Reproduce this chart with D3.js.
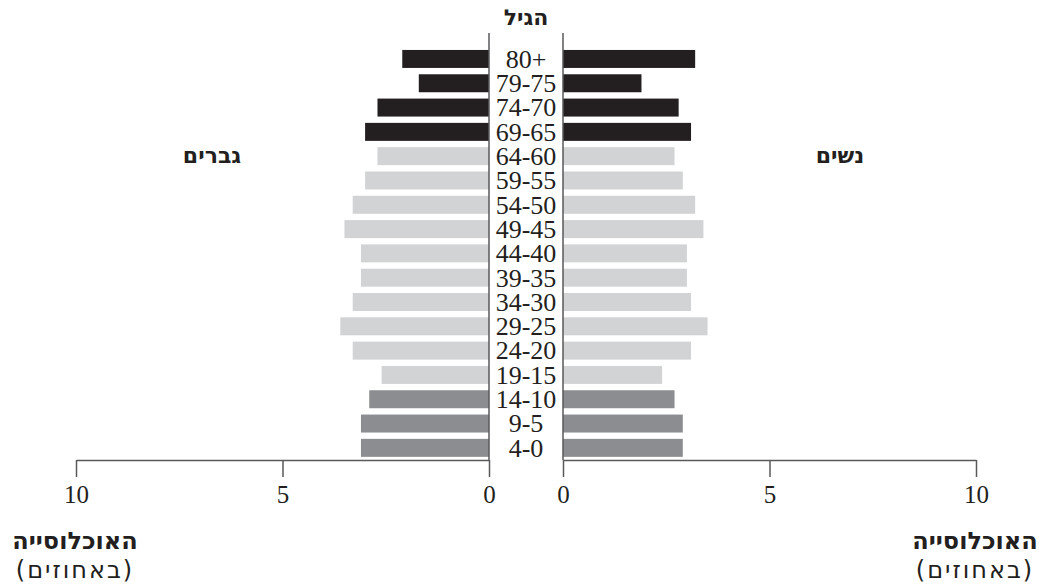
<!DOCTYPE html>
<html>
<head>
<meta charset="utf-8">
<script src="https://cdn.jsdelivr.net/npm/d3@7"></script>
<style>
  body { margin: 0; background: #fff; }
  svg { display: block; }
</style>
</head>
<body>
<div class="chart"></div>
<script>
// age groups, top to bottom
const ages = ['80+', '79-75', '74-70', '69-65', '64-60', '59-55', '54-50', '49-45', '44-40',
              '39-35', '34-30', '29-25', '24-20', '19-15', '14-10', '9-5', '4-0'];
const groups = ['old', 'old', 'old', 'old', 'adult', 'adult', 'adult', 'adult', 'adult',
                'adult', 'adult', 'adult', 'adult', 'adult', 'young', 'young', 'young'];
// percent of population
const men   = [2.1, 1.7, 2.7, 3.0, 2.7, 3.0, 3.3, 3.5, 3.1, 3.1, 3.3, 3.6, 3.3, 2.6, 2.9, 3.1, 3.1];
const women = [3.2, 1.9, 2.8, 3.1, 2.7, 2.9, 3.2, 3.4, 3.0, 3.0, 3.1, 3.5, 3.1, 2.4, 2.7, 2.9, 2.9];
const ticks = [0, 5, 10];

const width = 1041;
const height = 587;
const serif = '"Liberation Serif", "DejaVu Serif", serif';
const sans = '"DejaVu Sans", "Liberation Sans", sans-serif';

const svg = d3.select('.chart')
  .append('svg')
  .attr('width', width)
  .attr('height', height);

const colour = d3.scaleOrdinal()
  .domain(['old', 'adult', 'young'])
  .range(['#231f20', '#d1d3d4', '#8c8d90']);

const yScale = d3.scaleBand()
  .domain(ages)
  .range([46.8, 460])
  .paddingInner(0.26)
  .paddingOuter(0.13);

const leftX = d3.scaleLinear().domain([0, 10]).range([489, 76]);
const rightX = d3.scaleLinear().domain([0, 10]).range([563, 976]);

const rows = ages.map((a, i) => ({age: a, group: groups[i], m: men[i], w: women[i]}));

// men bars
svg.selectAll('rect.men')
  .data(rows)
  .enter()
  .append('rect')
    .attr('class', 'men')
    .attr('x', d => leftX(d.m))
    .attr('y', d => yScale(d.age))
    .attr('width', d => leftX(0) - leftX(d.m))
    .attr('height', yScale.bandwidth())
    .attr('fill', d => colour(d.group));

// women bars
svg.selectAll('rect.women')
  .data(rows)
  .enter()
  .append('rect')
    .attr('class', 'women')
    .attr('x', rightX(0))
    .attr('y', d => yScale(d.age))
    .attr('width', d => rightX(d.w) - rightX(0))
    .attr('height', yScale.bandwidth())
    .attr('fill', d => colour(d.group));

// age labels in the middle column (LRO/PDF keeps "80+" in that order)
svg.selectAll('text.age')
  .data(rows)
  .enter()
  .append('text')
    .attr('class', 'age')
    .attr('x', (leftX(0) + rightX(0)) / 2)
    .attr('y', d => yScale(d.age) + yScale.bandwidth() / 2)
    .attr('dy', '0.34em')
    .attr('text-anchor', 'middle')
    .style('font-family', serif)
    .style('font-size', '26px')
    .attr('fill', '#231f20')
    .text(d => '\u202D' + d.age + '\u202C');

// axes
const axisY = 460;
const leftAxis = d3.axisBottom(leftX).tickValues(ticks).tickSize(17).tickSizeOuter(0).tickPadding(8);
const rightAxis = d3.axisBottom(rightX).tickValues(ticks).tickSize(17).tickSizeOuter(0).tickPadding(8);

[leftAxis, rightAxis].forEach(ax => {
  const g = svg.append('g')
    .attr('transform', `translate(0,${axisY})`)
    .call(ax);
  g.select('.domain').attr('stroke', '#58595b').attr('stroke-width', 1.5);
  g.selectAll('.tick line').attr('stroke', '#58595b').attr('stroke-width', 1.5);
  g.selectAll('.tick text')
    .attr('fill', '#231f20')
    .style('font-family', serif)
    .style('font-size', '25px');
});

// vertical lines around the age column
[leftX(0), rightX(0)].forEach(x => {
  svg.append('line')
    .attr('x1', x).attr('x2', x)
    .attr('y1', 33).attr('y2', axisY)
    .attr('stroke', '#58595b')
    .attr('stroke-width', 1.5);
});

// hebrew titles
function heb(x, y, txt, size, bold, spacing) {
  svg.append('text')
    .attr('x', x)
    .attr('y', y)
    .attr('text-anchor', 'middle')
    .attr('fill', '#231f20')
    .style('direction', 'rtl')
    .style('font-family', sans)
    .style('font-size', size + 'px')
    .style('font-weight', bold ? 'bold' : 'normal')
    .style('letter-spacing', (spacing || 0) + 'px')
    .text(txt);
}

heb(526, 25, 'הגיל', 22, true);
heb(212, 163, 'גברים', 22, true);
heb(840, 163, 'נשים', 22, true);
heb(75, 549, 'האוכלוסייה', 24, true);
heb(75, 578, '(באחוזים)', 24, false, 2);
heb(975, 549, 'האוכלוסייה', 24, true);
heb(975, 578, '(באחוזים)', 24, false, 2);
</script>
</body>
</html>
